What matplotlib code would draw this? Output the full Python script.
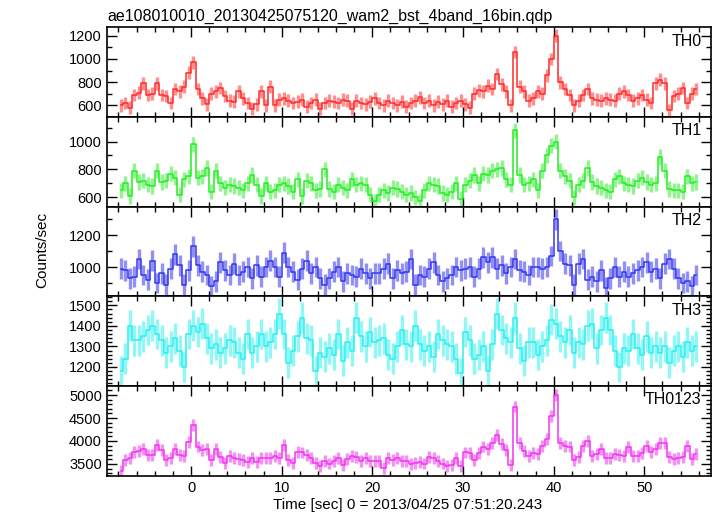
import numpy as np
import matplotlib
matplotlib.use('Agg')
import matplotlib.pyplot as plt
from matplotlib.ticker import MultipleLocator

plt.rcParams['font.family'] = ['Liberation Sans', 'DejaVu Sans']

# light curve, 0.5 s bins, first bin centre at -7.75 s
t_first = -7.75
t_bin = 0.5

th0 = [600, 620, 580, 690, 710, 790, 690, 700, 790, 690, 680, 620, 740, 720, 760, 880,
       970, 740, 660, 610, 700, 720, 750, 680, 640, 630, 720, 660, 620, 570, 610, 720,
       600, 760, 600, 650, 660, 640, 620, 630, 650, 590, 620, 650, 570, 620, 640, 630,
       620, 650, 640, 570, 640, 620, 610, 630, 660, 620, 600, 640, 620, 600, 630, 590,
       620, 640, 670, 620, 640, 600, 630, 610, 640, 590, 620, 640, 610, 580, 700, 730,
       720, 770, 740, 870, 780, 720, 600, 1060, 760, 720, 640, 660, 720, 700, 860, 1000,
       1200, 800, 740, 690, 600, 640, 690, 740, 660, 650, 640, 660, 650, 640, 700, 720,
       690, 640, 660, 690, 650, 620, 790, 820, 790, 560, 680, 700, 750, 620, 700, 740]

th1 = [650, 700, 610, 790, 710, 720, 690, 680, 790, 710, 720, 770, 740, 620, 730, 750,
       980, 740, 750, 810, 640, 790, 700, 670, 690, 680, 670, 650, 700, 760, 690, 610,
       700, 640, 650, 690, 700, 680, 640, 730, 610, 720, 700, 650, 660, 800, 660, 640,
       690, 670, 650, 730, 690, 700, 690, 620, 570, 620, 650, 630, 670, 660, 640, 620,
       630, 600, 570, 650, 700, 690, 680, 630, 620, 640, 700, 590, 690, 720, 760, 700,
       770, 760, 790, 800, 810, 730, 690, 1080, 760, 690, 700, 730, 650, 790, 900, 970,
       1000, 790, 750, 720, 600, 690, 720, 810, 710, 680, 670, 650, 640, 730, 750, 700,
       690, 680, 720, 740, 710, 690, 700, 890, 790, 660, 650, 650, 640, 750, 700, 710]

th2 = [990, 980, 930, 940, 1050, 950, 920, 1040, 900, 960, 890, 990, 1080, 1010, 890, 980,
       1130, 1010, 970, 950, 880, 910, 1030, 980, 950, 1020, 950, 970, 1000, 930, 1010, 940,
       1000, 1040, 1000, 940, 1090, 1000, 970, 920, 990, 1040, 960, 1000, 930, 890, 930, 970,
       1000, 910, 960, 950, 940, 990, 960, 930, 960, 960, 990, 1020, 930, 980, 960, 970,
       1050, 890, 950, 940, 990, 1030, 950, 910, 930, 950, 1000, 980, 990, 1000, 940, 990,
       1060, 1030, 1060, 990, 1010, 960, 1000, 1050, 980, 970, 950, 1000, 1000, 990, 1000, 1070,
       1300, 1100, 1020, 1010, 890, 1020, 1050, 920, 940, 910, 980, 870, 930, 1000, 940, 970,
       940, 960, 980, 1000, 1030, 970, 990, 930, 1020, 1050, 990, 930, 900, 910, 880, 950]

th3 = [1180, 1240, 1400, 1330, 1330, 1350, 1380, 1400, 1360, 1330, 1270, 1300, 1340, 1280, 1200, 1360,
       1400, 1370, 1410, 1340, 1290, 1310, 1270, 1290, 1330, 1320, 1270, 1240, 1360, 1270, 1300, 1360,
       1300, 1320, 1360, 1460, 1360, 1220, 1280, 1350, 1440, 1340, 1330, 1180, 1270, 1250, 1290, 1260,
       1360, 1230, 1320, 1280, 1440, 1350, 1300, 1370, 1320, 1330, 1340, 1260, 1240, 1300, 1380, 1310,
       1300, 1400, 1310, 1280, 1300, 1250, 1360, 1330, 1310, 1300, 1240, 1170, 1370, 1330, 1240, 1260,
       1300, 1180, 1310, 1460, 1380, 1340, 1320, 1440, 1290, 1230, 1320, 1320, 1260, 1300, 1330, 1430,
       1410, 1350, 1320, 1380, 1270, 1320, 1310, 1400, 1410, 1290, 1380, 1440, 1380, 1280, 1200, 1290,
       1280, 1360, 1290, 1260, 1350, 1270, 1300, 1270, 1300, 1220, 1280, 1300, 1250, 1320, 1280, 1300]

th0123 = [3350, 3580, 3620, 3760, 3790, 3820, 3700, 3700, 3920, 3800, 3580, 3620, 3830, 3700, 3680, 3980,
          4350, 3880, 3800, 3820, 3580, 3820, 3660, 3530, 3680, 3620, 3600, 3580, 3550, 3620, 3540, 3620,
          3630, 3620, 3680, 3620, 3920, 3580, 3520, 3760, 3750, 3690, 3640, 3530, 3460, 3570, 3510, 3560,
          3640, 3480, 3610, 3680, 3650, 3560, 3630, 3560, 3570, 3560, 3420, 3620, 3590, 3640, 3560, 3560,
          3490, 3530, 3550, 3510, 3660, 3640, 3570, 3510, 3460, 3480, 3640, 3450, 3750, 3740, 3580, 3730,
          3880, 3820, 3950, 4130, 3930, 3810, 3480, 4750, 3950, 3790, 3680, 3740, 3720, 3890, 4050, 4550,
          5000, 3960, 3900, 3880, 3580, 3650, 3900, 4000, 3680, 3720, 3820, 3640, 3620, 3720, 3690, 3680,
          3870, 3680, 3680, 3740, 3890, 3760, 3830, 3960, 3950, 3650, 3600, 3630, 3650, 3900, 3600, 3720]

channels = ['TH0', 'TH1', 'TH2', 'TH3', 'TH0123']
series = [th0, th1, th2, th3, th0123]
err_half = [55, 55, 65, 75, 130]   # typical 1-sigma bar

title = 'ae108010010_20130425075120_wam2_bst_4band_16bin.qdp'
xlabel = 'Time [sec] 0 = 2013/04/25 07:51:20.243'

ylims = [(500, 1272), (533, 1176), (816, 1379), (1107, 1544), (3245, 5196)]
major = [200, 200, 200, 100, 500]
minor = [100, 100, 100, 20, 100]
line_col = ['#ff2a2a', '#22ee22', '#3535f0', '#2aefef', '#f035f0']
err_col = ['#ff8f8f', '#8ff58f', '#9090f5', '#90f7f7', '#f590f5']

fig, axes = plt.subplots(5, 1, figsize=(7.17, 5.16), dpi=100, sharex=True)
fig.subplots_adjust(left=0.1488, right=0.9916, top=0.9471, bottom=0.0781, hspace=0)

for i, ax in enumerate(axes):
    y = np.array(series[i], dtype=float)
    t = t_first + t_bin * np.arange(len(y))
    e = err_half[i]
    ax.vlines(t, y - e, y + e, color=err_col[i], lw=2.4, zorder=1)
    ax.step(t, y, where='mid', color=line_col[i], lw=1.1, zorder=2)

    ax.set_xlim(-9.3, 57.35)
    ax.set_ylim(*ylims[i])
    ax.yaxis.set_major_locator(MultipleLocator(major[i]))
    ax.yaxis.set_minor_locator(MultipleLocator(minor[i]))
    ax.xaxis.set_major_locator(MultipleLocator(10))
    ax.xaxis.set_minor_locator(MultipleLocator(2))
    ax.tick_params(which='both', direction='in', top=True, right=True, labelsize=10.5)
    ax.tick_params(which='major', length=7, width=1)
    ax.tick_params(which='minor', length=3.5, width=1)
    for sp in ax.spines.values():
        sp.set_linewidth(1.2)
    ax.text(0.984, 0.93, channels[i], transform=ax.transAxes, ha='right', va='top', fontsize=11.5)

fig.text(107 / 717, 1 - 16.5 / 516, title, ha='left', va='center', fontsize=11.5)
fig.text(42 / 717, 1 - 250 / 516, 'Counts/sec', rotation=90, ha='center', va='center', fontsize=11)
fig.text(408 / 717, 1 - 505 / 516, xlabel, ha='center', va='center', fontsize=11)

fig.savefig('out.png', dpi=100)
